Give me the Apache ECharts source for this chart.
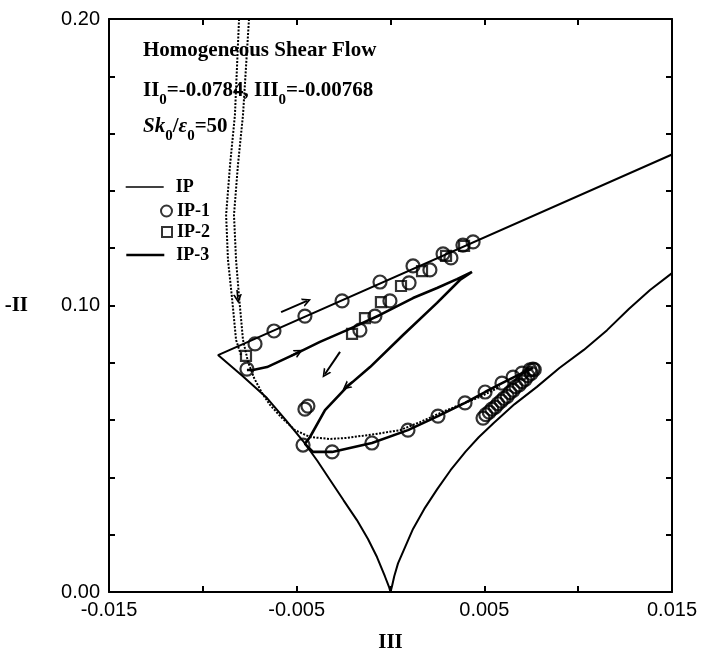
<!DOCTYPE html>
<html>
<head>
<meta charset="utf-8">
<script src="https://cdn.jsdelivr.net/npm/echarts@6/dist/echarts.min.js"></script>
<style>
  html, body { margin: 0; padding: 0; background: #fff; }
  #chart { width: 701px; height: 658px; }
</style>
</head>
<body>
<div id="chart"></div>
<script>
// Anisotropy invariant map for homogeneous shear flow: -II against III.

// Realizability boundary: two-component line, left and right axisymmetric branches.
const boundary = [
  [0.0150, 0.1527], [-0.00919, 0.0827], [-0.00790, 0.0755], [-0.00658, 0.0677],
  [-0.00560, 0.0602], [-0.00466, 0.0527], [-0.00390, 0.0458], [-0.00322, 0.0391],
  [-0.00250, 0.0320], [-0.00179, 0.0251], [-0.00120, 0.0185], [-0.00072, 0.0122],
  [-0.00030, 0.0055], [-0.00008, 0.0018], [0.0, 0.0],
  [0.00008, 0.0020], [0.00020, 0.0055], [0.00040, 0.0100], [0.00080, 0.0160],
  [0.00120, 0.0220], [0.00180, 0.0290], [0.00250, 0.0360], [0.00320, 0.0425],
  [0.00400, 0.0490], [0.00470, 0.0540], [0.00550, 0.0590], [0.00660, 0.0655],
  [0.00780, 0.0716], [0.00900, 0.0782], [0.01030, 0.0845], [0.01154, 0.0914],
  [0.01270, 0.0988], [0.01383, 0.1054], [0.01500, 0.1113]
];

// IP model trajectories (fine dotted curves)
const ipPathA = [
  [-0.00807, 0.2000], [-0.00829, 0.1665], [-0.00855, 0.1490], [-0.00876, 0.1316],
  [-0.00866, 0.1159], [-0.00845, 0.1030], [-0.00823, 0.0880], [-0.00797, 0.0827]
];
const ipPathB = [
  [-0.00754, 0.2000], [-0.00786, 0.1665], [-0.00813, 0.1490], [-0.00834, 0.1316],
  [-0.00823, 0.1159], [-0.00807, 0.1030], [-0.00786, 0.0880], [-0.00759, 0.0803],
  [-0.00727, 0.0747], [-0.00685, 0.0695], [-0.00642, 0.0653], [-0.00578, 0.0607],
  [-0.00509, 0.0565], [-0.00429, 0.0541], [-0.00322, 0.0534], [-0.00232, 0.0538],
  [-0.00083, 0.0551], [0.00051, 0.0565], [0.00157, 0.0593], [0.00301, 0.0635],
  [0.00477, 0.0681], [0.00584, 0.0716]
];

// IP-3 trajectory (heavy solid curve)
const ip3Path = [
  [-0.00765, 0.0775], [-0.00733, 0.0775], [-0.00658, 0.0785], [-0.00498, 0.0834],
  [-0.00376, 0.0873], [-0.00232, 0.0914], [-0.00056, 0.0967], [0.00120, 0.1026],
  [0.00248, 0.1061], [0.00354, 0.1092], [0.00434, 0.1117], [0.00370, 0.1089],
  [0.00248, 0.1009], [0.00067, 0.0897], [-0.00109, 0.0785], [-0.00232, 0.0716],
  [-0.00349, 0.0635], [-0.00429, 0.0541], [-0.00456, 0.0517], [-0.00413, 0.0489],
  [-0.00311, 0.0489], [-0.00099, 0.0520], [0.00093, 0.0565], [0.00253, 0.0614],
  [0.00397, 0.0660], [0.00504, 0.0698], [0.00594, 0.0729], [0.00701, 0.0764],
  [0.00759, 0.0782]
];

// IP-1 states (open circles)
const ip1Points = [
  // along the two-component line
  [-0.00765, 0.0778], [-0.00722, 0.0866], [-0.00621, 0.0911], [-0.00456, 0.0963],
  [-0.00258, 0.1016], [-0.00056, 0.1082], [0.00120, 0.1138], [0.00280, 0.1180],
  [0.00386, 0.1211], [0.00440, 0.1222],
  // just below it, beside the squares
  [-0.00163, 0.0914], [-0.00083, 0.0963], [-0.00003, 0.1016], [0.00099, 0.1079],
  [0.00210, 0.1124], [0.00322, 0.1166],
  // isolated pair
  [-0.00456, 0.0638], [-0.00440, 0.0649],
  // lower branch
  [-0.00466, 0.0513], [-0.00311, 0.0489], [-0.00099, 0.0520], [0.00093, 0.0565],
  [0.00253, 0.0614], [0.00397, 0.0660], [0.00504, 0.0698], [0.00594, 0.0729],
  [0.00653, 0.0750], [0.00701, 0.0764], [0.00743, 0.0775], [0.00759, 0.0778],
  // dense cluster near the right axisymmetric branch
  [0.00493, 0.0607], [0.00508, 0.0619], [0.00526, 0.0628], [0.00540, 0.0638],
  [0.00558, 0.0645], [0.00572, 0.0657], [0.00590, 0.0666], [0.00604, 0.0676],
  [0.00622, 0.0683], [0.00636, 0.0696], [0.00654, 0.0704], [0.00668, 0.0717],
  [0.00686, 0.0723], [0.00700, 0.0734], [0.00718, 0.0742], [0.00732, 0.0755],
  [0.00750, 0.0763], [0.00766, 0.0776]
];

// IP-2 states (open squares)
const ip2Points = [
  [-0.00770, 0.0824], [-0.00205, 0.0901], [-0.00136, 0.0956], [-0.00051, 0.1012],
  [0.00056, 0.1068], [0.00168, 0.1120], [0.00296, 0.1173], [0.00392, 0.1208]
];

// Free arrows showing the direction of evolution
const arrowSegments = [
  [[-0.00583, 0.0977], [-0.00445, 0.1016]],
  [[-0.00269, 0.0838], [-0.00349, 0.0761]]
];
// Arrowheads sitting on the curves
const directionMarks = [
  [[-0.00530, 0.0824], [-0.00488, 0.0838]],
  [[-0.00205, 0.0733], [-0.00237, 0.0716]],
  [[-0.00818, 0.1054], [-0.00813, 0.1023]]
];

const xLabelValues = [-0.015, -0.005, 0.005, 0.015];
const yLabelValues = [0, 0.1, 0.2];

const SERIF = '"Liberation Serif", "Times New Roman", serif';
const SANS = '"Liberation Sans", Arial, sans-serif';
const chevron = 'path://M0,12 L6,0 L12,12 L9.6,12 L6,4.8 L2.4,12 Z';

function hasValue(list, v) {
  return list.some(function (t) { return Math.abs(t - v) < 1e-9; });
}

const chart = echarts.init(document.getElementById('chart'), null, { renderer: 'canvas' });

const axisCommon = {
  type: 'value',
  axisLine: { show: true, onZero: false, lineStyle: { color: '#000', width: 2 } },
  axisTick: { show: true, inside: true, length: 6, lineStyle: { color: '#000', width: 2 } },
  splitLine: { show: false }
};

const hiddenMarker = { color: 'rgba(0,0,0,0)', borderWidth: 0, opacity: 0 };
const legendText = { fontFamily: SERIF, fontWeight: 'bold', fontSize: 18, color: '#000' };

const option = {
  animation: false,
  backgroundColor: '#fff',
  grid: { left: 109, right: 29, top: 19, bottom: 66, containLabel: false },
  xAxis: [
    Object.assign({}, axisCommon, {
      position: 'bottom', min: -0.015, max: 0.015, interval: 0.005,
      name: 'III', nameLocation: 'middle', nameGap: 40,
      nameTextStyle: { fontFamily: SERIF, fontWeight: 'bold', fontSize: 21, color: '#000' },
      axisLabel: {
        show: true, margin: 8, color: '#000', fontFamily: SANS, fontSize: 20,
        showMinLabel: true, showMaxLabel: true,
        formatter: function (v) { return hasValue(xLabelValues, v) ? v.toFixed(3) : ''; }
      }
    }),
    Object.assign({}, axisCommon, {
      position: 'top', min: -0.015, max: 0.015, interval: 0.005,
      axisLabel: { show: false }
    })
  ],
  yAxis: [
    Object.assign({}, axisCommon, {
      position: 'left', min: 0, max: 0.2, interval: 0.02,
      name: '-II', nameLocation: 'middle', nameRotate: 0, nameGap: 81,
      nameTextStyle: { fontFamily: SERIF, fontWeight: 'bold', fontSize: 21, color: '#000' },
      axisLabel: {
        show: true, margin: 9, color: '#000', fontFamily: SANS, fontSize: 20,
        showMinLabel: true, showMaxLabel: true,
        formatter: function (v) { return hasValue(yLabelValues, v) ? v.toFixed(2) : ''; }
      }
    }),
    Object.assign({}, axisCommon, {
      position: 'right', min: 0, max: 0.2, interval: 0.02,
      axisLabel: { show: false }
    })
  ],
  legend: [
    {
      data: [{ name: 'IP' }], left: 125, top: 178, padding: 0,
      itemWidth: 38, itemHeight: 12, selectedMode: false,
      itemStyle: hiddenMarker,
      lineStyle: { type: 'solid', width: 1.4, color: '#000' },
      textStyle: Object.assign({ padding: [0, 0, 0, 7] }, legendText)
    },
    {
      data: [{ name: 'IP-1' }], left: 160, top: 202, padding: 0,
      itemWidth: 11, itemHeight: 11, selectedMode: false,
      itemStyle: { color: 'rgba(0,0,0,0)', borderColor: '#000', borderWidth: 2 },
      textStyle: legendText
    },
    {
      data: [{ name: 'IP-2' }], left: 161, top: 223, padding: 0,
      itemWidth: 10, itemHeight: 10, selectedMode: false,
      itemStyle: { color: 'rgba(0,0,0,0)', borderColor: '#000', borderWidth: 2 },
      textStyle: legendText
    },
    {
      data: [{ name: 'IP-3' }], left: 125, top: 246, padding: 0,
      itemWidth: 38, itemHeight: 12, selectedMode: false,
      itemStyle: hiddenMarker,
      lineStyle: { type: 'solid', width: 2.6, color: '#000' },
      textStyle: Object.assign({ padding: [0, 0, 0, 7] }, legendText)
    }
  ],
  graphic: [
    {
      type: 'text', left: 143, top: 40,
      style: { text: 'Homogeneous Shear Flow', font: 'bold 21px ' + SERIF, fill: '#000' }
    },
    {
      type: 'text', left: 143, top: 80,
      style: {
        text: '{m|II}{s|0}{m|=-0.0784, III}{s|0}{m|=-0.00768}',
        fill: '#000',
        rich: {
          m: { fontFamily: SERIF, fontWeight: 'bold', fontSize: 21, lineHeight: 20, verticalAlign: 'top', fill: '#000' },
          s: { fontFamily: SERIF, fontWeight: 'bold', fontSize: 15, lineHeight: 14, verticalAlign: 'top', padding: [13, 0, 0, 0], fill: '#000' }
        }
      }
    },
    {
      type: 'text', left: 143, top: 116,
      style: {
        text: '{i|Sk}{s|0}{m|/}{i|\u03b5}{s|0}{m|=50}',
        fill: '#000',
        rich: {
          m: { fontFamily: SERIF, fontWeight: 'bold', fontSize: 21, lineHeight: 20, verticalAlign: 'top', fill: '#000' },
          i: { fontFamily: SERIF, fontWeight: 'bold', fontStyle: 'italic', fontSize: 21, lineHeight: 20, verticalAlign: 'top', fill: '#000' },
          s: { fontFamily: SERIF, fontWeight: 'bold', fontSize: 15, lineHeight: 14, verticalAlign: 'top', padding: [13, 0, 0, 0], fill: '#000' }
        }
      }
    }
  ],
  series: [
    {
      name: 'realizability', type: 'line', data: boundary, symbol: 'none', silent: true, z: 2,
      smooth: false,
      lineStyle: { color: '#000', width: 2 }
    },
    {
      name: 'IP', type: 'line', data: ipPathA, symbol: 'none', silent: true, z: 3,
      itemStyle: { color: '#000' },
      lineStyle: { color: '#000', width: 2, type: [2, 1.5] }
    },
    {
      name: 'IP', type: 'line', data: ipPathB, symbol: 'none', silent: true, z: 3,
      itemStyle: { color: '#000' },
      lineStyle: { color: '#000', width: 2, type: [2, 1.5] },
      markLine: {
        silent: true, symbol: ['none', chevron], symbolSize: [9, 9],
        label: { show: false },
        lineStyle: { color: '#000', width: 1.6, type: 'solid' },
        data: [directionMarks[2].map(function (p) { return { coord: p }; })]
      }
    },
    {
      name: 'IP-3', type: 'line', data: ip3Path, symbol: 'none', silent: true, z: 4,
      itemStyle: { color: '#000' },
      lineStyle: { color: '#000', width: 2.6 },
      markLine: {
        silent: true, symbol: ['none', chevron], symbolSize: [9, 9],
        label: { show: false },
        lineStyle: { color: '#000', width: 2, type: 'solid' },
        data: arrowSegments.concat(directionMarks.slice(0, 2)).map(function (seg) {
          return seg.map(function (p) { return { coord: p }; });
        })
      }
    },
    {
      name: 'IP-1', type: 'scatter', data: ip1Points, symbol: 'circle', symbolSize: 13, z: 5,
      itemStyle: { color: 'rgba(0,0,0,0)', borderColor: '#000', borderWidth: 2.2 }
    },
    {
      name: 'IP-2', type: 'scatter', data: ip2Points, symbol: 'rect', symbolSize: 10, z: 5,
      itemStyle: { color: 'rgba(0,0,0,0)', borderColor: '#000', borderWidth: 2.2 }
    }
  ]
};

chart.setOption(option);
</script>
</body>
</html>
